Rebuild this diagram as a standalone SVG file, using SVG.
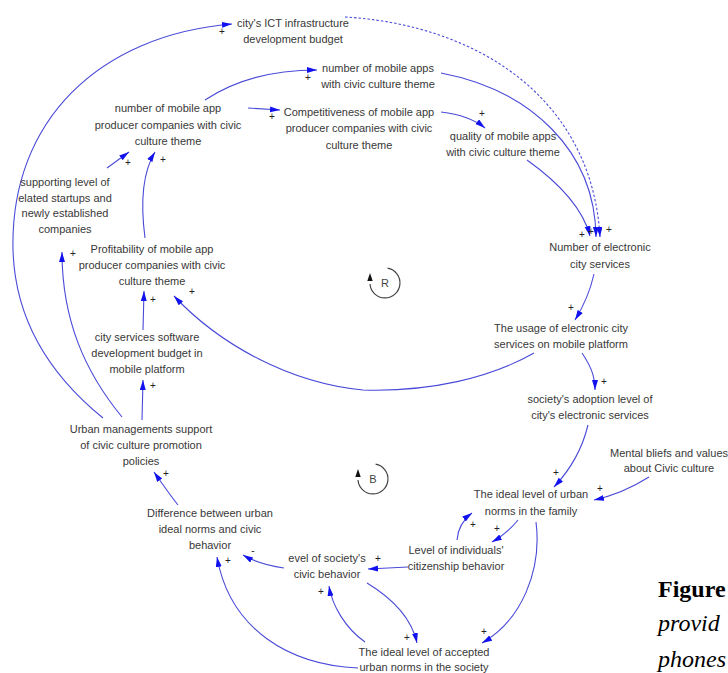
<svg xmlns="http://www.w3.org/2000/svg" width="728" height="673" viewBox="0 0 728 673">
  <style>
    .lbl { font-family: "Liberation Sans", Arial, sans-serif; font-size: 11px; fill: #383838; text-anchor: middle; }
    .pol { font-family: "Liberation Sans", Arial, sans-serif; font-size: 10px; fill: #222; text-anchor: middle; }
    .link { fill: none; stroke: #4a4ad8; stroke-width: 1.1; marker-end: url(#arrow); }
    .dotted { stroke-dasharray: 2.5 2; }
    .loop { fill: none; stroke: #444; stroke-width: 1.2; }
    .loopTxt { font-family: "Liberation Sans", Arial, sans-serif; font-size: 11px; fill: #444; text-anchor: middle; }
    .cap { font-family: "Liberation Serif", "Times New Roman", serif; font-size: 24px; fill: #000; }
  </style>
  <defs>
    <marker id="arrow" markerUnits="userSpaceOnUse" markerWidth="11" markerHeight="7" refX="10" refY="3" orient="auto">
      <path d="M0,0 L10,3 L0,6 z" fill="#1212ee"/>
    </marker>
  </defs>
  <rect width="728" height="673" fill="#fff"/>

  <!-- causal links -->
  <g id="connectors">
    <path class="link" d="M103,418 C 50,375 15,320 13,250 C 10,120 100,35 232,24"/>
    <path class="link" d="M122,417 C 85,372 62,320 62,252"/>
    <path class="link" d="M142,420 L143,380"/>
    <path class="link" d="M143,330 L144,291"/>
    <path class="link" d="M145,238 C 140,200 144,170 155,152"/>
    <path class="link" d="M107,168 L129,152"/>
    <path class="link" d="M534,353 C 490,378 430,392 363,390 C 290,383 220,345 174,296"/>
    <path class="link" d="M205,100 C 232,82 270,70 317,70"/>
    <path class="link" d="M248,108 L280,110"/>
    <path class="link" d="M441,73 C 530,90 595,150 596,237"/>
    <path class="link dotted" d="M345,17 C 480,25 592,100 600,237"/>
    <path class="link" d="M441,112 C 458,114 474,119 485,128"/>
    <path class="link" d="M527,160 C 555,180 582,205 590,236"/>
    <path class="link" d="M594,274 C 590,292 583,307 575,320"/>
    <path class="link" d="M582,353 C 590,365 595,375 595,390"/>
    <path class="link" d="M588,425 C 582,450 570,470 554,487"/>
    <path class="link" d="M649,477 C 630,489 612,496 594,500"/>
    <path class="link" d="M518,520 C 510,530 501,537 492,542"/>
    <path class="link" d="M457,540 C 458,528 464,519 472,513"/>
    <path class="link" d="M536,522 C 542,570 522,620 482,643"/>
    <path class="link" d="M408,567 L368,569"/>
    <path class="link" d="M367,583 C 395,600 412,620 417,643"/>
    <path class="link" d="M365,642 C 345,628 332,605 329,586"/>
    <path class="link" d="M284,568 C 270,566 255,562 243,555"/>
    <path class="link" d="M358,668 C 290,665 230,630 217,557"/>
    <path class="link" d="M178,505 C 170,495 161,482 154,472"/>
  </g>

  <!-- link polarities -->
  <g id="polarities">
    <text class="pol" x="222" y="35">+</text>
    <text class="pol" x="308" y="81">+</text>
    <text class="pol" x="272" y="120">+</text>
    <text class="pol" x="482" y="117">+</text>
    <text class="pol" x="128" y="166">+</text>
    <text class="pol" x="163" y="163">+</text>
    <text class="pol" x="73" y="257">+</text>
    <text class="pol" x="153" y="303">+</text>
    <text class="pol" x="192" y="295">+</text>
    <text class="pol" x="153" y="389">+</text>
    <text class="pol" x="582" y="238">+</text>
    <text class="pol" x="591" y="235">+</text>
    <text class="pol" x="609" y="233">+</text>
    <text class="pol" x="571" y="311">+</text>
    <text class="pol" x="604" y="385">+</text>
    <text class="pol" x="556" y="476">+</text>
    <text class="pol" x="600" y="492">+</text>
    <text class="pol" x="497" y="532">+</text>
    <text class="pol" x="473" y="528">+</text>
    <text class="pol" x="484" y="635">+</text>
    <text class="pol" x="378" y="562">+</text>
    <text class="pol" x="407" y="641">+</text>
    <text class="pol" x="321" y="595">+</text>
    <text class="pol" x="253" y="554">-</text>
    <text class="pol" x="228" y="564">+</text>
    <text class="pol" x="166" y="477">+</text>
  </g>

  <!-- loop markers -->
  <g id="loop-R">
    <path class="loop" d="M387.6,268.2 A15,15 0 1 1 370,284"/>
    <path d="M370,273 L367.3,281 L372.7,281 z" fill="#111"/>
    <text class="loopTxt" x="385" y="287">R</text>
  </g>
  <g id="loop-B">
    <path class="loop" d="M375.6,464.2 A15,15 0 1 1 358,480"/>
    <path d="M358,469 L355.3,477 L360.7,477 z" fill="#111"/>
    <text class="loopTxt" x="373" y="483">B</text>
  </g>

  <!-- variables -->
  <g id="ict-budget">
    <text class="lbl" x="293" y="27">city's ICT infrastructure</text>
    <text class="lbl" x="293" y="43">development budget</text>
  </g>
  <g id="mobile-apps">
    <text class="lbl" x="378" y="72">number of mobile apps</text>
    <text class="lbl" x="378" y="88">with civic culture theme</text>
  </g>
  <g id="producer-companies">
    <text class="lbl" x="168" y="112">number of mobile app</text>
    <text class="lbl" x="168" y="128.5">producer companies with civic</text>
    <text class="lbl" x="168" y="145">culture theme</text>
  </g>
  <g id="competitiveness">
    <text class="lbl" x="359" y="116">Competitiveness of mobile app</text>
    <text class="lbl" x="359" y="132">producer companies with civic</text>
    <text class="lbl" x="359" y="149">culture theme</text>
  </g>
  <g id="app-quality">
    <text class="lbl" x="503" y="140">quality of mobile apps</text>
    <text class="lbl" x="503" y="156">with civic culture theme</text>
  </g>
  <g id="e-services">
    <text class="lbl" x="600" y="251">Number of electronic</text>
    <text class="lbl" x="600" y="268">city services</text>
  </g>
  <g id="mobile-usage">
    <text class="lbl" x="561" y="332">The usage of electronic city</text>
    <text class="lbl" x="561" y="348">services on mobile platform</text>
  </g>
  <g id="adoption">
    <text class="lbl" x="590" y="403">society's adoption level of</text>
    <text class="lbl" x="590" y="419">city's electronic services</text>
  </g>
  <g id="mental-beliefs">
    <text class="lbl" x="669" y="457">Mental bliefs and values</text>
    <text class="lbl" x="669" y="472">about Civic culture</text>
  </g>
  <g id="family-norms">
    <text class="lbl" x="531" y="498">The ideal level of urban</text>
    <text class="lbl" x="531" y="515">norms in the family</text>
  </g>
  <g id="citizenship">
    <text class="lbl" x="456" y="554">Level of individuals'</text>
    <text class="lbl" x="456" y="570">citizenship behavior</text>
  </g>
  <g id="civic-behavior">
    <text class="lbl" x="327" y="562">evel of society's</text>
    <text class="lbl" x="327" y="578">civic behavior</text>
  </g>
  <g id="society-norms">
    <text class="lbl" x="424" y="656">The ideal level of accepted</text>
    <text class="lbl" x="424" y="671">urban norms in the society</text>
  </g>
  <g id="norm-gap">
    <text class="lbl" x="210" y="517">Difference between urban</text>
    <text class="lbl" x="210" y="533">ideal norms and civic</text>
    <text class="lbl" x="210" y="549">behavior</text>
  </g>
  <g id="urban-support">
    <text class="lbl" x="141" y="433">Urban managements support</text>
    <text class="lbl" x="141" y="449">of civic culture promotion</text>
    <text class="lbl" x="141" y="465">policies</text>
  </g>
  <g id="software-budget">
    <text class="lbl" x="147" y="341">city services software</text>
    <text class="lbl" x="147" y="357">development budget in</text>
    <text class="lbl" x="147" y="373">mobile platform</text>
  </g>
  <g id="profitability">
    <text class="lbl" x="152" y="253">Profitability of mobile app</text>
    <text class="lbl" x="152" y="269">producer companies with civic</text>
    <text class="lbl" x="152" y="285">culture theme</text>
  </g>
  <g id="startups">
    <text class="lbl" x="65" y="186">supporting level of</text>
    <text class="lbl" x="65" y="202">elated startups and</text>
    <text class="lbl" x="65" y="217">newly established</text>
    <text class="lbl" x="65" y="233">companies</text>
  </g>

  <!-- caption fragment -->
  <g id="caption">
    <text class="cap" x="658" y="597" font-weight="bold" font-size="25">Figure</text>
    <text class="cap" x="658" y="631" font-style="italic">provid</text>
    <text class="cap" x="658" y="667" font-style="italic">phones</text>
  </g>
</svg>
